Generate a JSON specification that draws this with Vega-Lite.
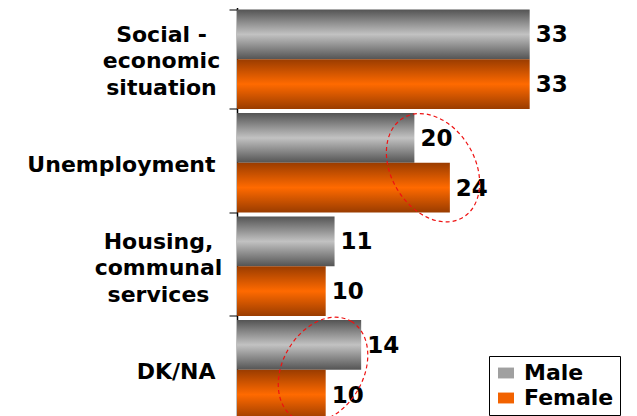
{
  "$schema": "https://vega.github.io/schema/vega-lite/v6.json",
  "autosize": "none",
  "width": 400,
  "height": 414,
  "padding": {"left": 237, "top": 7.5, "right": 0, "bottom": 0},
  "background": "white",
  "config": {"view": {"stroke": null}, "font": "DejaVu Sans"},
  "datasets": {
    "bars": [
      {"category": "Social - economic situation", "sex": "Male", "value": 33},
      {"category": "Social - economic situation", "sex": "Female", "value": 33},
      {"category": "Unemployment", "sex": "Male", "value": 20},
      {"category": "Unemployment", "sex": "Female", "value": 24},
      {"category": "Housing, communal services", "sex": "Male", "value": 11},
      {"category": "Housing, communal services", "sex": "Female", "value": 10},
      {"category": "DK/NA", "sex": "Male", "value": 14},
      {"category": "DK/NA", "sex": "Female", "value": 10}
    ],
    "ring1": [{"category": "Unemployment", "value": 22.1}],
    "ring2": [{"category": "DK/NA", "value": 9.7}]
  },
  "layer": [
    {
      "data": {"name": "bars"},
      "transform": [{"filter": "datum.sex === 'Male'"}],
      "mark": {"type": "bar", "color": {"gradient": "linear", "x1": 0, "y1": 0, "x2": 0, "y2": 1, "stops": [{"offset": 0, "color": "#545454"}, {"offset": 0.5, "color": "#c2c2c2"}, {"offset": 1, "color": "#545454"}]}},
      "encoding": {
        "y": {
          "field": "category",
          "type": "nominal",
          "scale": {
            "domain": ["Social - economic situation", "Unemployment", "Housing, communal services", "DK/NA"],
            "paddingInner": 0.04,
            "paddingOuter": 0.02
          },
          "axis": {
            "title": null,
            "domainColor": "black",
            "domainWidth": 1.5,
            "tickBand": "extent",
            "tickColor": "#808080",
            "tickSize": 8,
            "tickWidth": 2,
            "labelFont": "DejaVu Sans",
            "labelFontSize": 22,
            "labelFontWeight": "bold",
            "labelColor": "black",
            "labelLineHeight": 26.5,
            "labelLimit": 300,
            "labelAlign": {"condition": {"test": "datum.value == 'Social - economic situation' || datum.value == 'Housing, communal services'", "value": "center"}, "value": "right"},
            "labelPadding": {"condition": [{"test": "datum.value == 'Social - economic situation'", "value": 68}, {"test": "datum.value == 'Housing, communal services'", "value": 71}], "value": 14},
            "labelOffset": {"condition": {"test": "datum.value == 'Social - economic situation' || datum.value == 'Housing, communal services'", "value": -25}, "value": 2},
            "labelExpr": "datum.value == 'Social - economic situation' ? ['Social -', 'economic', 'situation'] : datum.value == 'Housing, communal services' ? ['Housing,', 'communal', 'services'] : datum.value"
          }
        },
        "x": {"field": "value", "type": "quantitative", "scale": {"domain": [0, 45.1], "nice": false}, "axis": null},
        "yOffset": {"field": "sex", "type": "nominal", "scale": {"domain": ["Male", "Female"], "paddingInner": 0, "paddingOuter": 0}}
      }
    },
    {
      "data": {"name": "bars"},
      "transform": [{"filter": "datum.sex === 'Female'"}],
      "mark": {"type": "bar", "color": {"gradient": "linear", "x1": 0, "y1": 0, "x2": 0, "y2": 1, "stops": [{"offset": 0, "color": "#9a3c00"}, {"offset": 0.5, "color": "#ff6a00"}, {"offset": 1, "color": "#9a3c00"}]}},
      "encoding": {
        "y": {"field": "category", "type": "nominal"},
        "x": {"field": "value", "type": "quantitative"},
        "yOffset": {"field": "sex", "type": "nominal"}
      }
    },
    {
      "data": {"name": "bars"},
      "transform": [{"filter": "false"}],
      "mark": {"type": "bar"},
      "encoding": {
        "y": {"field": "category", "type": "nominal"},
        "x": {"field": "value", "type": "quantitative"},
        "fill": {
          "field": "sex",
          "type": "nominal",
          "scale": {"domain": ["Male", "Female"], "range": ["#a0a0a0", "#f26200"]},
          "legend": {
            "title": null,
            "orient": "none",
            "legendX": 252,
            "legendY": 348.5,
            "direction": "vertical",
            "fillColor": "white",
            "strokeColor": "black",
            "padding": 6,
            "rowPadding": 3,
            "symbolType": "M -1 -0.68 L 1 -0.68 L 1 0.68 L -1 0.68 Z",
            "symbolSize": 256,
            "symbolStrokeWidth": 0,
            "labelFont": "DejaVu Sans",
            "labelFontSize": 22,
            "labelFontWeight": "bold",
            "labelColor": "black",
            "labelOffset": 7
          }
        }
      }
    },
    {
      "data": {"name": "bars"},
      "mark": {"type": "text", "align": "left", "baseline": "middle", "dx": 6, "dy": 1, "font": "DejaVu Sans", "fontSize": 23, "fontWeight": "bold", "color": "black"},
      "encoding": {
        "y": {"field": "category", "type": "nominal"},
        "x": {"field": "value", "type": "quantitative"},
        "yOffset": {"field": "sex", "type": "nominal"},
        "text": {"field": "value", "type": "quantitative"}
      }
    },
    {
      "data": {"name": "ring1"},
      "mark": {
        "type": "point",
        "shape": "M 1 0 C 1 0.3977 0.5523 0.72 0 0.72 C -0.5523 0.72 -1 0.3977 -1 0 C -1 -0.3977 -0.5523 -0.72 0 -0.72 C 0.5523 -0.72 1 -0.3977 1 0 Z",
        "size": 13456,
        "angle": 59,
        "yOffset": 5,
        "filled": false,
        "stroke": "#ee1111",
        "strokeWidth": 1.2,
        "strokeDash": [4, 3],
        "opacity": 1
      },
      "encoding": {
        "y": {"field": "category", "type": "nominal"},
        "x": {"field": "value", "type": "quantitative"}
      }
    },
    {
      "data": {"name": "ring2"},
      "mark": {
        "type": "point",
        "shape": "M 1 0 C 1 0.3977 0.5523 0.72 0 0.72 C -0.5523 0.72 -1 0.3977 -1 0 C -1 -0.3977 -0.5523 -0.72 0 -0.72 C 0.5523 -0.72 1 -0.3977 1 0 Z",
        "size": 12544,
        "angle": -60,
        "filled": false,
        "stroke": "#ee1111",
        "strokeWidth": 1.2,
        "strokeDash": [4, 3],
        "opacity": 1
      },
      "encoding": {
        "y": {"field": "category", "type": "nominal"},
        "x": {"field": "value", "type": "quantitative"}
      }
    },
    {
      "mark": {"type": "rule", "color": "#0b5a25", "strokeWidth": 11},
      "encoding": {
        "x": {"datum": 44.48, "type": "quantitative"}
      }
    }
  ]
}
